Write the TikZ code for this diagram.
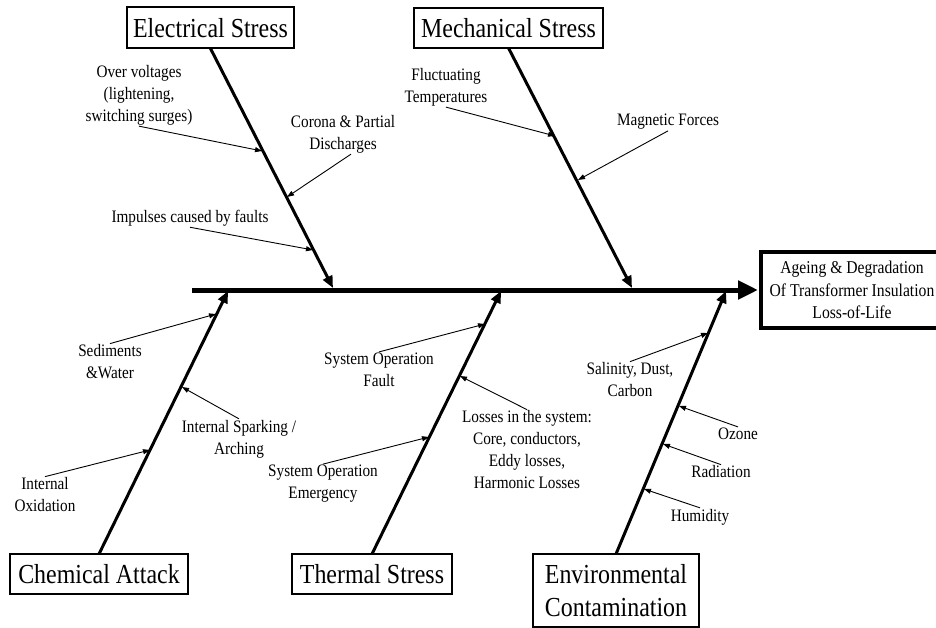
\documentclass[tikz,border=0pt]{standalone}
\usepackage{fontspec}
\setmainfont{Liberation Serif}[FakeStretch=0.87]
\usetikzlibrary{arrows.meta}

\begin{document}
\begin{tikzpicture}[x=1pt,y=-1pt,
  cat/.style={draw,line width=2pt,inner sep=0pt,outer sep=0pt,align=center,
    font=\fontsize{27.5}{33}\selectfont},
  lbl/.style={inner sep=1pt,align=center,font=\fontsize{17.5}{22}\selectfont},
  bone/.style={line width=3pt,-{Triangle[length=12pt,width=10pt]}},
  cause/.style={line width=0.9pt,-{Triangle[length=7pt,width=5pt]}}]

  \useasboundingbox (0,0) rectangle (936,628);
  \clip (0,0) rectangle (936,628);

  % effect
  \node[draw,line width=4.5pt,outer sep=0pt,minimum width=182,minimum height=76,
    align=center,font=\fontsize{18}{22.5}\selectfont] (head) at (852,290)
    {Ageing \& Degradation\\Of Transformer Insulation\\Loss-of-Life};
  \coordinate (tail) at (192,290);
  \draw[line width=5pt,shorten >=3pt,-{Triangle[length=20pt,width=18pt]}] (tail)--(head.west);

  % categories
  \node[cat,minimum width=167,minimum height=41] (es) at (210.5,28) {Electrical Stress};
  \node[cat,minimum width=189,minimum height=40] (ms) at (508.5,28) {Mechanical Stress};
  \node[cat,minimum width=178,minimum height=40] (ca) at (99,574) {Chemical Attack};
  \node[cat,minimum width=160,minimum height=40] (ts) at (372,574) {Thermal Stress};
  \node[cat,minimum width=166,minimum height=73] (ec) at (616,590.5) {Environmental\\Contamination};

  \coordinate (tE) at (333,288);
  \coordinate (tM) at (632,288);
  \coordinate (tC) at (228,291);
  \coordinate (tT) at (501,291);
  \coordinate (tV) at (726,291);

  \draw[bone] (es.south)--(tE);
  \draw[bone] (ms.south)--(tM);
  \draw[bone] (ca.north)--(tC);
  \draw[bone] (ts.north)--(tT);
  \draw[bone] (ec.north)--(tV);

  % causes on the bones
  \coordinate (e1) at (262,151);
  \coordinate (e2) at (287,197);
  \coordinate (e3) at (313,250);
  \coordinate (m1) at (555,136);
  \coordinate (m2) at (578,180);
  \coordinate (c1) at (216,314);
  \coordinate (c2) at (182,387);
  \coordinate (c3) at (150,450);
  \coordinate (t1) at (485,324);
  \coordinate (t2) at (460,376);
  \coordinate (t3) at (429,437);
  \coordinate (v1) at (708,333);
  \coordinate (v2) at (679,406);
  \coordinate (v3) at (663,444);
  \coordinate (v4) at (644,489);

  \node[lbl] (ov) at (139,95) {Over voltages\\(lightening,\\switching surges)};
  \node[lbl] (cor) at (343,134) {Corona \& Partial\\Discharges};
  \node[lbl] (imp) at (190,218) {Impulses caused by faults};
  \node[lbl] (fl) at (446,87) {Fluctuating\\Temperatures};
  \node[lbl] (mag) at (668,122) {Magnetic Forces};
  \node[lbl] (sed) at (110,362) {Sediments\\\&Water};
  \node[lbl] (spk) at (239,439) {Internal Sparking /\\Arching};
  \node[lbl] (ox) at (45,495) {Internal\\Oxidation};
  \node[lbl] (sof) at (379,370) {System Operation\\Fault};
  \node[lbl] (los) at (527,450) {Losses in the system:\\Core, conductors,\\Eddy losses,\\Harmonic Losses};
  \node[lbl] (soe) at (323,484) {System Operation\\Emergency};
  \node[lbl] (sal) at (630,380) {Salinity, Dust,\\Carbon};
  \node[lbl] (oz) at (738,434) {Ozone};
  \node[lbl] (rad) at (721,472) {Radiation};
  \node[lbl] (hum) at (700,517) {Humidity};

  \draw[cause] (ov.south)--(e1);
  \draw[cause] ([xshift=8]cor.south)--(e2);
  \draw[cause] (imp.south)--(e3);
  \draw[cause] (fl.south)--(m1);
  \draw[cause] (mag.south)--(m2);
  \draw[cause] (sed.north)--(c1);
  \draw[cause] (spk.north)--(c2);
  \draw[cause] (ox.north)--(c3);
  \draw[cause] (sof.north)--(t1);
  \draw[cause] (los.north)--(t2);
  \draw[cause] (soe.north)--(t3);
  \draw[cause] (sal.north)--(v1);
  \draw[cause] (oz.north)--(v2);
  \draw[cause] (rad.north)--(v3);
  \draw[cause] (hum.north)--(v4);
\end{tikzpicture}
\end{document}
